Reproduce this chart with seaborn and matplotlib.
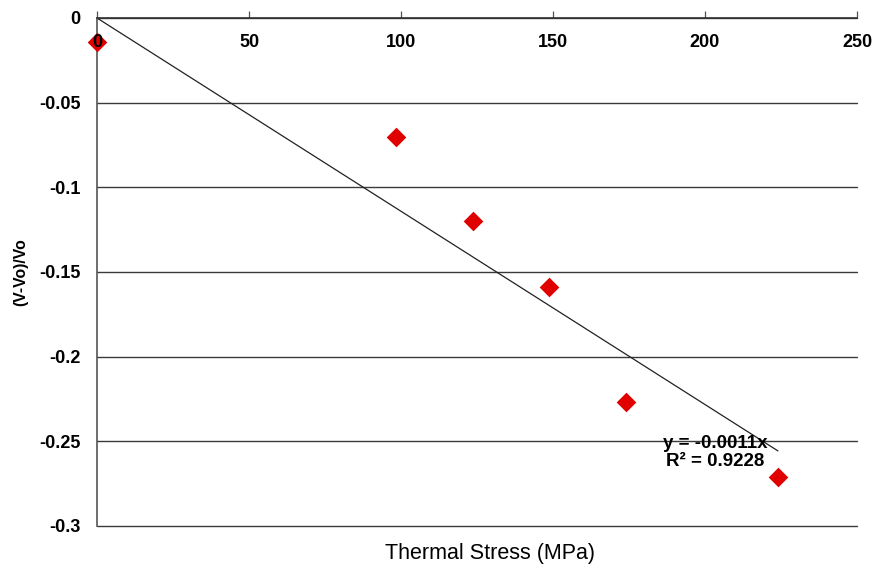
import numpy as np
import pandas as pd
import matplotlib
matplotlib.use("Agg")
import matplotlib.pyplot as plt
import seaborn as sns

# Data
stress = [0, 98.4, 123.7, 148.7, 174.0, 224.0]
dv_ratio = [-0.014, -0.070, -0.120, -0.159, -0.227, -0.271]
x_ticks = [0, 50, 100, 150, 200, 250]
y_ticks = [0, -0.05, -0.1, -0.15, -0.2, -0.25, -0.3]
y_tick_labels = ["0", "-0.05", "-0.1", "-0.15", "-0.2", "-0.25", "-0.3"]
eq_text = "y = -0.0011x\nR² = 0.9228"

sns.set_style("white")
plt.rcParams['font.family'] = ['Liberation Sans', 'DejaVu Sans']
plt.rcParams['text.color'] = 'black'
plt.rcParams['ytick.labelcolor'] = 'black'
plt.rcParams['xtick.labelcolor'] = 'black'

df = pd.DataFrame({"stress": stress, "dv": dv_ratio})

fig = plt.figure(figsize=(8.75, 5.67), dpi=100)
ax = fig.add_axes([97/875, 1-526/567, (857-97)/875, (526-18)/567])

# gridlines
for yv in y_ticks:
    ax.axhline(yv, color="#3a3a3a", lw=1.0, zorder=1, clip_on=False)

# linear trend through origin
xs = np.array(stress); ys = np.array(dv_ratio)
slope = (xs*ys).sum() / (xs*xs).sum()
line_x = np.array([0, xs.max()])
sns.lineplot(x=line_x, y=slope*line_x, ax=ax, color="#222222", lw=0.9, zorder=2)

sns.scatterplot(data=df, x="stress", y="dv", ax=ax, marker="D", s=100,
                color="#e00000", edgecolor="#e00000", linewidth=0, zorder=3,
                clip_on=False)

ax.set_xlim(0, 250)
ax.set_ylim(-0.3, 0)
ax.set_xticks(x_ticks)
ax.set_yticks(y_ticks)
ax.set_yticklabels(y_tick_labels)
ax.xaxis.set_ticks_position("top")
ax.tick_params(axis="x", direction="out", length=5, width=0.9, color="#555555",
               labeltop=False, labelbottom=False)
ax.tick_params(axis="y", direction="out", length=5, width=0.9, color="#555555",
               labelsize=13, pad=7)
for lbl in ax.get_yticklabels():
    lbl.set_fontweight("bold")
# x tick labels placed below the top axis line, inside plot
for xv in x_ticks:
    ax.annotate(str(xv), xy=(xv, 0), xycoords="data", xytext=(0, -24),
                textcoords="offset points", ha="center", va="bottom",
                fontsize=13, fontweight="bold", zorder=4, annotation_clip=False)

for side in ["right", "bottom"]:
    ax.spines[side].set_visible(False)
ax.spines["left"].set_color("#555555")
ax.spines["left"].set_linewidth(1.2)
ax.spines["top"].set_color("#333333")
ax.spines["top"].set_linewidth(1.2)

ax.set_xlabel("")
ax.set_ylabel("")
fig.text(21/875, 1-272/567, "(V-Vo)/Vo", rotation=90, ha="center", va="center",
         fontsize=11.3, fontweight="bold")
fig.text(490/875, 1-554/567, "Thermal Stress (MPa)", ha="center", va="center",
         fontsize=15.5)

ax.text(203.5, -0.2565, eq_text, ha="center", va="center", fontsize=13.5,
        fontweight="bold", linespacing=1.12, zorder=4)

fig.savefig("out.png", dpi=100)
